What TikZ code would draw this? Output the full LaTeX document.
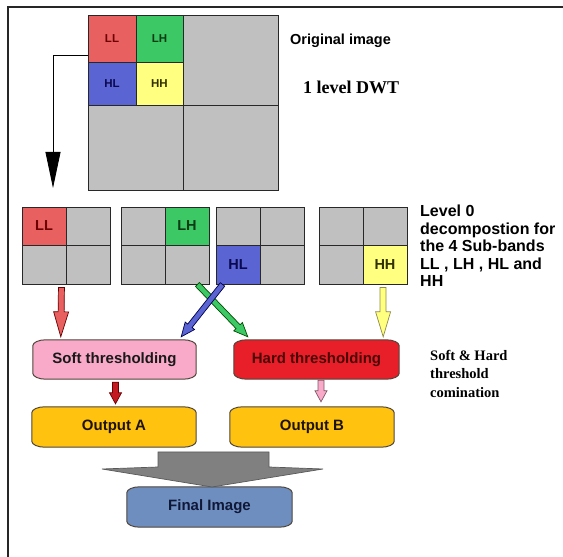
\documentclass[tikz,border=0pt]{standalone}
\usepackage{fontspec}
\setmainfont{Liberation Sans}
\newfontfamily\timesf{Liberation Serif}
\usetikzlibrary{calc,arrows.meta,backgrounds}
\definecolor{cgray}{RGB}{192,192,192}
\definecolor{gridc}{RGB}{40,40,40}
\definecolor{llred}{RGB}{232,96,96}
\definecolor{lhgreen}{RGB}{60,200,100}
\definecolor{hlblue}{RGB}{90,100,210}
\definecolor{hhyellow}{RGB}{255,255,128}
\definecolor{lltxt}{RGB}{110,0,0}
\definecolor{lhtxt}{RGB}{10,60,20}
\definecolor{hltxt}{RGB}{10,10,80}
\definecolor{hhtxt}{RGB}{50,50,0}
\definecolor{softfill}{RGB}{249,170,201}
\definecolor{hardfill}{RGB}{232,30,40}
\definecolor{hardtxt}{RGB}{75,8,8}
\definecolor{outfill}{RGB}{255,194,14}
\definecolor{finalfill}{RGB}{110,142,192}
\definecolor{finaltxt}{RGB}{16,24,56}
\definecolor{boxedge}{RGB}{80,70,60}
\newcommand\blockarr[6]{%
  \draw[#6] let \p1=(#1), \p2=(#2), \n1={atan2(\y2-\y1,\x2-\x1)}, \n2={veclen(\x2-\x1,\y2-\y1)} in
   ($(\p1)+(\n1+90:#3)$) -- ($(\p1)+(\n1:\n2-#5)+(\n1+90:#3)$) -- ($(\p1)+(\n1:\n2-#5)+(\n1+90:#4)$) -- (\p2)
   -- ($(\p1)+(\n1:\n2-#5)+(\n1-90:#4)$) -- ($(\p1)+(\n1:\n2-#5)+(\n1-90:#3)$) -- ($(\p1)+(\n1-90:#3)$) -- cycle;}
% #1 name, #2 position, #3 width, #4 height, #5 fill, #6 text colour, #7 text
\newcommand\procnode[7]{%
  \node[procbox, minimum width=#3pt, minimum height=#4pt, text=#6] (#1) at (#2) {#7};
  \begin{pgfonlayer}{background}
  \draw[line width=1pt, draw=boxedge, fill=#5]
    ($(#1.south west)+(0,6)$) -- ($(#1.north west)+(0,-6)$)
    arc[start angle=180,end angle=90,x radius=13,y radius=6] -- ($(#1.north east)+(-13,0)$)
    arc[start angle=90,end angle=0,x radius=13,y radius=6] -- ($(#1.south east)+(0,6)$)
    arc[start angle=0,end angle=-90,x radius=13,y radius=6] -- ($(#1.south west)+(13,0)$)
    arc[start angle=270,end angle=180,x radius=13,y radius=6] -- cycle;
  \end{pgfonlayer}}
\tikzset{
  cellA/.style={draw=gridc, line width=0.9pt, fill=cgray, inner sep=0pt, font=\bfseries\fontsize{11.5}{12}\selectfont},
  cellB/.style={draw=gridc, line width=0.9pt, fill=cgray, inner sep=0pt, minimum width=44pt, font=\bfseries\fontsize{14.5}{15}\selectfont},
  toprow/.style={minimum height=38pt},
  botrow/.style={minimum height=39pt},
  procbox/.style={inner sep=0pt, font=\bfseries\fontsize{15}{16}\selectfont},
  arrowline/.style={line width=0.7pt, line join=miter},
}
\begin{document}
\begin{tikzpicture}[x=1pt,y=1pt]
\useasboundingbox (0,0) rectangle (563,557);
% frame
\draw[line width=1.6pt, black!85] (8,0) -- (8,550) -- (563,550);

% original image grid
\node[cellA, minimum width=95pt, minimum height=90pt] (bTR) at (230.5,497) {};
\node[cellA, minimum width=95pt, minimum height=85pt] (bBL) at (135.5,409.5) {};
\node[cellA, minimum width=95pt, minimum height=85pt] (bBR) at (230.5,409.5) {};
\node[cellA, fill=llred, text=lltxt, minimum width=48pt, minimum height=47pt] (bLL) at (112,518.5) {LL};
\node[cellA, fill=lhgreen, text=lhtxt, minimum width=47pt, minimum height=47pt] (bLH) at (159.5,518.5) {LH};
\node[cellA, fill=hlblue, text=hltxt, minimum width=48pt, minimum height=43pt] (bHL) at (112,473.5) {HL};
\node[cellA, fill=hhyellow, text=hhtxt, minimum width=47pt, minimum height=43pt] (bHH) at (159.5,473.5) {HH};

\node[anchor=west, inner sep=0pt, font=\bfseries\fontsize{14.5}{16}\selectfont] (orig) at (290,516) {Original image};
\node[anchor=west, inner sep=0pt, font=\timesf\bfseries\fontsize{18}{20}\selectfont] (dwt) at (303,470) {1 level DWT};

% black arrow
\coordinate (bk) at (53,369);
\draw[line width=0.8pt, -{Triangle[length=36pt,width=15pt]}] ($(bLL.west)+(0,-16.5)$) -| (bk);

% level 0 grids
\node[cellB, toprow, fill=llred, text=lltxt] (g1tl) at (44,331) {LL};
\node[cellB, toprow] (g1tr) at (88,331) {};
\node[cellB, botrow] (g1bl) at (44,292.5) {};
\node[cellB, botrow] (g1br) at (88,292.5) {};

\node[cellB, toprow] (g2tl) at (143,331) {};
\node[cellB, toprow, fill=lhgreen, text=lhtxt] (g2tr) at (187,331) {LH};
\node[cellB, botrow] (g2bl) at (143,292.5) {};
\node[cellB, botrow] (g2br) at (187,292.5) {};

\node[cellB, toprow] (g3tl) at (238,331) {};
\node[cellB, toprow] (g3tr) at (282,331) {};
\node[cellB, botrow, fill=hlblue, text=hltxt] (g3bl) at (238,292.5) {HL};
\node[cellB, botrow] (g3br) at (282,292.5) {};

\node[cellB, toprow] (g4tl) at (341,331) {};
\node[cellB, toprow] (g4tr) at (385,331) {};
\node[cellB, botrow] (g4bl) at (341,292.5) {};
\node[cellB, botrow, fill=hhyellow, text=hhtxt] (g4br) at (385,292.5) {HH};

\node[anchor=north west, inner sep=0pt, align=left, font=\bfseries\fontsize{16}{17.5}\selectfont] (lev) at (420,352)
  {Level 0\\decompostion for\\the 4 Sub-bands\\LL , LH , HL and\\HH};

% processing boxes
\procnode{soft}{114.5,197.5}{163}{39}{softfill}{black!90}{Soft thresholding}
\procnode{hard}{316.5,197.5}{165}{39}{hardfill}{hardtxt}{Hard thresholding}
\procnode{outA}{114,130}{164}{40}{outfill}{black!85!brown}{Output A}
\procnode{outB}{312,130}{164}{40}{outfill}{black!85!brown}{Output B}
\procnode{final}{209.5,50}{165}{40}{finalfill}{finaltxt}{Final Image}

\node[anchor=north west, inner sep=0pt, align=left, font=\timesf\bfseries\fontsize{14.5}{18.5}\selectfont] (shc) at (430,207)
  {Soft \& Hard\\threshold\\comination};

% block arrows
\blockarr{$(g1bl.south east)+(-5,-3)$}{$(soft.north west)+(28,3)$}{3}{7.5}{25}{arrowline, draw=black!60!red, fill=llred}
\blockarr{$(g4br.south)+(-2,-3)$}{$(hard.north east)+(-16,3)$}{3}{7.5}{25}{arrowline, draw=black!50!yellow, fill=hhyellow}
\blockarr{$(g2br.south east)+(-12,0)$}{$(hard.north west)+(14,3)$}{2.8}{6}{14}{arrowline, draw=black!70!green, fill=lhgreen}
\blockarr{$(g3bl.south west)+(7,0)$}{$(soft.north east)+(-15,3)$}{2.8}{6}{14}{arrowline, draw=black!70!blue, fill=hlblue}
\blockarr{$(soft.south)+(1,-3)$}{$(outA.north)+(1.5,3)$}{3}{6}{11}{arrowline, draw=black!60!red, fill=black!15!hardfill}
\blockarr{$(hard.south)+(4.5,-1)$}{$(outB.north)+(9,5)$}{3}{6}{11}{arrowline, draw=black!50!softfill, fill=softfill}

% big gray arrow
\draw[arrowline, draw=black!65, fill=black!50] (158,105) -- (269,105) -- (269,90) -- (323,88) -- (212,70) -- (102,88) -- (158,90) -- cycle;
\end{tikzpicture}
\end{document}
